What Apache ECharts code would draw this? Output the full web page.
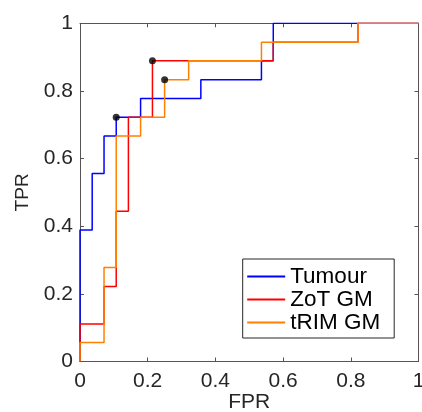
<!DOCTYPE html>
<html>
<head>
<meta charset="utf-8">
<script src="https://cdn.jsdelivr.net/npm/echarts@6/dist/echarts.min.js"></script>
<style>html,body{margin:0;padding:0;background:#fff}#c{width:422px;height:412px}</style>
</head>
<body>
<div id="c"></div>
<script>
// ROC curves: FPR (x) and TPR (y) vertices
var tumourFPR = [0, 0, 0.036, 0.036, 0.071, 0.071, 0.107, 0.107, 0.179, 0.179, 0.357, 0.357, 0.536, 0.536, 0.571, 0.571, 1];
var tumourTPR = [0, 0.389, 0.389, 0.556, 0.556, 0.667, 0.667, 0.722, 0.722, 0.778, 0.778, 0.833, 0.833, 0.889, 0.889, 1, 1];

var zotFPR = [0, 0, 0.071, 0.071, 0.107, 0.107, 0.143, 0.143, 0.214, 0.214, 0.571, 0.571, 0.821, 0.821, 1];
var zotTPR = [0, 0.111, 0.111, 0.222, 0.222, 0.444, 0.444, 0.722, 0.722, 0.889, 0.889, 0.944, 0.944, 1, 1];

var trimFPR = [0, 0, 0.071, 0.071, 0.107, 0.107, 0.179, 0.179, 0.25, 0.25, 0.321, 0.321, 0.536, 0.536, 0.821, 0.821, 1];
var trimTPR = [0, 0.056, 0.056, 0.278, 0.278, 0.667, 0.667, 0.722, 0.722, 0.833, 0.833, 0.889, 0.889, 0.944, 0.944, 1, 1];

var dotFPR = [0.107, 0.214, 0.25];
var dotTPR = [0.722, 0.889, 0.833];

var seriesNames = ['Tumour', 'ZoT GM', 'tRIM GM'];
var xTicks = [0, 0.2, 0.4, 0.6, 0.8, 1];
var yTicks = [0, 0.2, 0.4, 0.6, 0.8, 1];

function pairs(xs, ys) { return xs.map(function (x, i) { return [x, ys[i]]; }); }

var FONT = "'Liberation Sans', Arial, sans-serif";
var TXT = '#262626';
var AX = '#555555';

function axisBase(pos, showLabels) {
  return {
    type: 'value', position: pos, min: 0, max: 1, interval: 0.2,
    splitLine: { show: false },
    axisLine: { show: true, onZero: false, lineStyle: { color: AX, width: 1 } },
    axisTick: { show: true, inside: true, length: 4, lineStyle: { color: AX } },
    axisLabel: {
      show: showLabels, color: TXT, fontFamily: FONT, fontSize: 21,
      formatter: function (v) { return String(+v.toFixed(1)); }
    }
  };
}

var xa = axisBase('bottom', true);
xa.name = 'FPR'; xa.nameLocation = 'middle'; xa.nameGap = 30; xa.nameMoveOverlap = false;
xa.nameTextStyle = { color: TXT, fontFamily: FONT, fontSize: 21 };
xa.axisLabel.margin = 9;
var xa2 = axisBase('top', false);
var ya = axisBase('left', true);
ya.name = 'TPR'; ya.nameLocation = 'middle'; ya.nameGap = 48; ya.nameMoveOverlap = false;
ya.nameTextStyle = { color: TXT, fontFamily: FONT, fontSize: 19 };
ya.axisLabel.margin = 7;
var ya2 = axisBase('right', false);

var colors = ['#0000ff', '#ff0000', '#ff8000'];
var datas = [pairs(tumourFPR, tumourTPR), pairs(zotFPR, zotTPR), pairs(trimFPR, trimTPR)];

var series = seriesNames.map(function (n, i) {
  return {
    name: n, type: 'line', data: datas[i], xAxisIndex: 0, yAxisIndex: 0,
    showSymbol: false, symbol: 'none', animation: false,
    lineStyle: { color: colors[i], width: 1.5 }, itemStyle: { color: colors[i] },
    z: 2 + i
  };
});
series.push({
  name: 'dots', type: 'scatter', data: pairs(dotFPR, dotTPR), symbolSize: 7,
  itemStyle: { color: '#000000' }, z: 10, animation: false
});

var chart = echarts.init(document.getElementById('c'));
chart.setOption({
  animation: false,
  grid: { left: 80, right: 3.5, top: 23.3, bottom: 50.5, containLabel: false, outerBoundsMode: 'none' },
  xAxis: [xa, xa2],
  yAxis: [ya, ya2],
  legend: {
    data: seriesNames.map(function (n, i) { return { name: n, icon: 'rect', itemStyle: { color: colors[i] } }; }),
    orient: 'vertical', left: 242.7, top: 259,
    padding: [6, 14, 4, 4.5],
    itemGap: 0, itemWidth: 38, itemHeight: 2,
    backgroundColor: '#fff', borderColor: TXT, borderWidth: 1,
    textStyle: { color: '#000', fontFamily: FONT, fontSize: 22.5, lineHeight: 21, padding: [0, 0, 0, 0] },
    selectedMode: false
  },
  series: series
});
</script>
</body>
</html>
